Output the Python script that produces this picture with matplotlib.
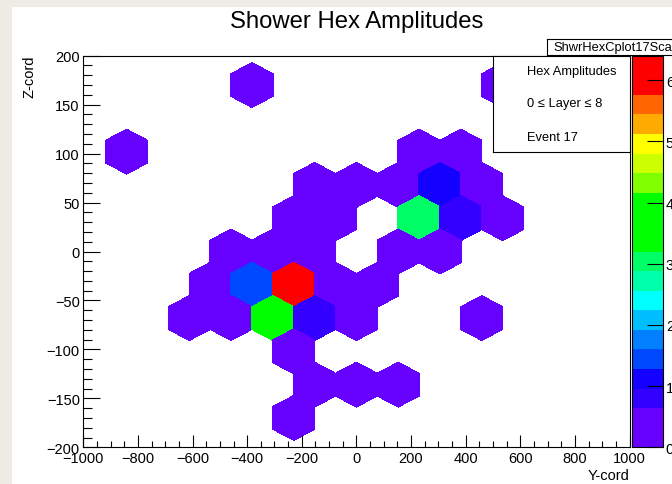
import numpy as np
import matplotlib
matplotlib.use("Agg")
import matplotlib.pyplot as plt
from matplotlib.colors import ListedColormap, BoundaryNorm
from matplotlib.collections import PolyCollection
from matplotlib.patches import Rectangle
from matplotlib.ticker import MultipleLocator
import matplotlib.colorbar as mcolorbar

plt.rcParams['font.family'] = ['Liberation Sans', 'DejaVu Sans']

# Hex cell centres in detector coordinates (Y, Z) and their amplitudes
hex_y = [-382.5, 535.5,
         -841.5, 229.5, 382.5,
         -153.0, 0.0, 153.0, 306.0, 459.0,
         -229.5, -76.5, 229.5, 382.5, 535.5,
         -459.0, -306.0, -153.0, 153.0, 306.0,
         -535.5, -382.5, -229.5, -76.5, 76.5,
         -612.0, -459.0, -306.0, -153.0, 0.0, 459.0,
         -229.5,
         -153.0, 0.0, 153.0,
         -229.5]
hex_z = [170, 170,
         102, 102, 102,
         68, 68, 68, 68, 68,
         34, 34, 34, 34, 34,
         0, 0, 0, 0, 0,
         -34, -34, -34, -34, -34,
         -68, -68, -68, -68, -68, -68,
         -102,
         -136, -136, -136,
         -170]
hex_amp = [0.25, 0.30,
           0.20, 0.40, 0.35,
           0.45, 0.30, 0.50, 1.10, 0.40,
           0.35, 0.55, 3.00, 0.80, 0.30,
           0.25, 0.50, 0.45, 0.40, 0.35,
           0.30, 1.40, 6.20, 0.50, 0.30,
           0.20, 0.45, 3.60, 0.80, 0.40, 0.25,
           0.35,
           0.30, 0.40, 0.25,
           0.30]

z_min, z_max, n_contours = 0.0, 6.4, 20
palette = ['#6600ff', '#6600ff', '#3300ff', '#1400ff', '#0048ff',
           '#0080ff', '#00bfff', '#00ffff', '#00ffaa', '#00ff66',
           '#00ff00', '#00ff00', '#00ff00', '#80ff00', '#ccff00',
           '#ffff00', '#ffaa00', '#ff6600', '#ff0000', '#ff0000']
color_ticks = [0, 1, 2, 3, 4, 5, 6]

title = "Shower Hex Amplitudes"
info_lines = ["Hex Amplitudes", "0 \u2264 Layer \u2264 8", "Event 17"]
hist_name = "ShwrHexCplot17Sca"

HALF_W = 76.5     # half width of a hex cell along Y
RADIUS = 22.67    # centre-to-vertex distance along Z

W, H = 672, 485
fig = plt.figure(figsize=(W / 100, H / 100), dpi=100)
fig.patch.set_facecolor('#efebe5')


def fx(px):
    return px / W


def fy(py):
    return 1 - py / H


# white canvas
fig.patches.append(Rectangle((fx(12), 0), 1, fy(8), transform=fig.transFigure,
                             facecolor='white', edgecolor='none', zorder=-5))

left, right, top, bottom = 83.3, 629.5, 56.7, 448.3
ax = fig.add_axes([fx(left), fy(bottom), (right - left) / W, (bottom - top) / H])
ax.set_zorder(1)
ax.set_facecolor('white')
ax.set_xlim(-1000, 1000)
ax.set_ylim(-200, 200)

cmap = ListedColormap(palette)
levels = np.linspace(z_min, z_max, n_contours + 1)
norm = BoundaryNorm(levels, cmap.N)

polys = []
for cy, cz in zip(hex_y, hex_z):
    polys.append([(cy, cz + RADIUS), (cy + HALF_W, cz + RADIUS / 2),
                  (cy + HALF_W, cz - RADIUS / 2), (cy, cz - RADIUS),
                  (cy - HALF_W, cz - RADIUS / 2), (cy - HALF_W, cz + RADIUS / 2)])
coll = PolyCollection(polys, array=np.array(hex_amp), cmap=cmap, norm=norm,
                      edgecolors='face', linewidths=0.3, antialiased=False)
ax.add_collection(coll)

for s in ax.spines.values():
    s.set_linewidth(0.8)
    s.set_color('black')

ax.xaxis.set_major_locator(MultipleLocator(200))
ax.xaxis.set_minor_locator(MultipleLocator(50))
ax.yaxis.set_major_locator(MultipleLocator(50))
ax.yaxis.set_minor_locator(MultipleLocator(10))
ax.tick_params(axis='x', which='major', direction='in', length=8.6, width=0.8,
               labelsize=10.5, pad=3, top=False)
ax.tick_params(axis='x', which='minor', direction='in', length=4.3, width=0.8, top=False)
ax.tick_params(axis='y', which='major', direction='in', length=12.2, width=0.8,
               labelsize=10.5, pad=2.5, right=False)
ax.tick_params(axis='y', which='minor', direction='in', length=6.5, width=0.8, right=False)

# colour scale
cax = fig.add_axes([fx(631.7), fy(bottom), (663 - 631.7) / W, (bottom - top) / H])
cax.set_zorder(1)
cb = mcolorbar.ColorbarBase(cax, cmap=cmap, norm=norm, boundaries=levels,
                            ticks=color_ticks, orientation='vertical')
cb.outline.set_linewidth(0.8)
cax.tick_params(which='major', direction='in', length=11.5, width=0.8,
                labelsize=10.5, pad=2)
cax.minorticks_off()

# text
fig.text(fx(356.5), fy(22), title, ha='center', va='center', fontsize=17.2)
fig.text(fx(29), fy(55), "Z-cord", ha='center', va='top', rotation=90, fontsize=10.5)
fig.text(fx(630), fy(476), "Y-cord", ha='right', va='center', fontsize=10.5)

# info pave, drawn above the axes
info_ax = fig.add_axes([fx(493), fy(153), (630 - 493) / W, (153 - 56.7) / H])
info_ax.set_zorder(3)
info_ax.set_xticks([])
info_ax.set_yticks([])
info_ax.set_facecolor('white')
for s in info_ax.spines.values():
    s.set_linewidth(0.8)
for txt, py in zip(info_lines, [72, 104, 138]):
    info_ax.text(fx(527), fy(py), txt, ha='left', va='center', fontsize=9.3,
                 transform=fig.transFigure)

# histogram name label
name_ax = fig.add_axes([fx(547), fy(55.5), (700 - 547) / W, 16 / H])
name_ax.set_zorder(3)
name_ax.set_xticks([])
name_ax.set_yticks([])
for s in name_ax.spines.values():
    s.set_linewidth(0.8)
name_ax.text(fx(553), fy(47.5), hist_name, ha='left', va='center', fontsize=9.3,
             transform=fig.transFigure)

fig.savefig("out.png", dpi=100, facecolor=fig.get_facecolor())
